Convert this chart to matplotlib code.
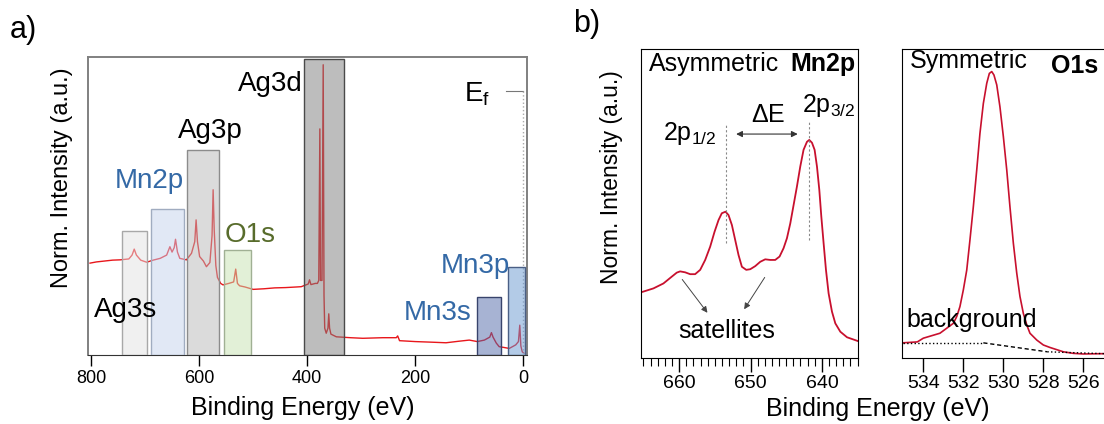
"""
plot.py — XPS survey (a) and Mn2p / O1s core levels (b)
"""
import matplotlib
matplotlib.use("Agg")
import matplotlib.pyplot as plt
from matplotlib.colors import to_rgba
from matplotlib.patches import Rectangle
from matplotlib.ticker import MultipleLocator

plt.rcParams["font.family"] = ["Liberation Sans", "DejaVu Sans"]
plt.rcParams["mathtext.fontset"] = "custom"
plt.rcParams["mathtext.rm"] = "Liberation Sans"
plt.rcParams["mathtext.it"] = "Liberation Sans:italic"

# --- survey spectrum (eV, normalised intensity) ---
survey_ev = [801.8, 790, 775, 760, 746, 730, 724, 720, 716, 708, 697, 685, 672, 660,
             654, 650, 646, 643.6, 640, 635.7, 623.4, 614, 608, 605.5, 603, 599, 592,
             586.4, 580, 576, 574, 572, 569, 566, 560, 555.7, 545, 536, 532.2, 529, 525,
             515, 500, 480, 460, 440, 420, 411, 398, 395.6, 393, 385, 381, 378.5, 376.5,
             375.3, 372.5, 370.3, 368.8, 367.5, 364.7, 361.5, 360, 358.5, 356, 346, 320,
             297, 260, 235, 232.5, 229, 200, 170, 143, 120, 100, 85, 72, 62, 59, 56, 50,
             44.7, 35, 26, 14, 9, 6.5, 4.5, 2, -1]
survey_int = [0.308, 0.312, 0.315, 0.318, 0.319, 0.322, 0.335, 0.355, 0.335, 0.318, 0.311,
              0.318, 0.324, 0.335, 0.363, 0.345, 0.36, 0.388, 0.345, 0.324, 0.319, 0.341,
              0.38, 0.453, 0.38, 0.33, 0.315, 0.296, 0.31, 0.40, 0.554, 0.42, 0.30, 0.26,
              0.24, 0.235, 0.24, 0.245, 0.288, 0.24, 0.232, 0.228, 0.220, 0.222, 0.225,
              0.226, 0.228, 0.229, 0.238, 0.252, 0.236, 0.24, 0.24, 0.25, 0.758, 0.25, 0.25,
              0.973, 0.2, 0.09, 0.073, 0.09, 0.138, 0.09, 0.07, 0.061, 0.058, 0.056, 0.058,
              0.058, 0.064, 0.048, 0.045, 0.043, 0.041, 0.046, 0.05, 0.045, 0.05, 0.06,
              0.075, 0.06, 0.04, 0.028, 0.025, 0.022, 0.034, 0.045, 0.1, 0.03, 0.011, 0.006]

# --- core-level regions marked on the survey ---
region_names = ["Ag3s", "Mn2p", "Ag3p", "O1s", "Ag3d", "Mn3s", "Mn3p"]
region_hi = [742.2, 688.6, 622.2, 553.8, 406.7, 84.8, 28.0]
region_lo = [696.6, 627.7, 563.0, 503.3, 332.2, 40.4, -2.7]
region_top = [0.417, 0.491, 0.687, 0.351, 0.993, 0.194, 0.296]
region_face = ["#e3e3e3", "#c5d3ed", "#b9b9b9", "#c7e3b1", "#7d7d7d", "#5169a9", "#6999d1"]
region_edge = ["#a8a8a8", "#a0acc0", "#8c8c8c", "#a0b094", "#4a4a4a", "#38436c", "#4a5f85"]
region_text = ["black", "#3469a6", "black", "#586c2c", "black", "#3469a6", "#3469a6"]
label_x = [736.3, 692.9, 579.0, 504.9, 468.2, 159.2, 89.4]
label_y = [0.129, 0.559, 0.727, 0.380, 0.884, 0.117, 0.274]

# --- Mn2p ---
mn_ev = [665.10, 663.60, 662.20, 661.03, 660.33, 659.86, 659.16, 658.46, 657.76, 657.05,
         656.35, 655.65, 655.04, 654.48, 654.02, 653.50, 653.08, 652.61, 652.15, 651.68,
         651.21, 650.60, 650.04, 649.34, 648.64, 647.94, 647.24, 646.54, 645.93, 645.37,
         644.90, 644.43, 643.96, 643.50, 643.03, 642.57, 642.09, 641.77, 641.39, 641.02,
         640.69, 640.36, 640.08, 639.76, 639.43, 639.06, 638.59, 638.12, 637.42, 636.48,
         634.99]
mn_int = [0.215, 0.226, 0.242, 0.264, 0.277, 0.281, 0.278, 0.272, 0.272, 0.286,
          0.318, 0.361, 0.409, 0.447, 0.469, 0.474, 0.463, 0.431, 0.383, 0.334,
          0.296, 0.286, 0.288, 0.298, 0.312, 0.320, 0.318, 0.318, 0.329, 0.356,
          0.388, 0.436, 0.496, 0.555, 0.620, 0.674, 0.700, 0.706, 0.697, 0.674,
          0.620, 0.544, 0.458, 0.372, 0.286, 0.210, 0.151, 0.113, 0.086, 0.068,
          0.056]
mn_peaks = [653.5, 641.8]

# --- O1s ---
o_ev = [535.03, 534.3, 534.0, 533.17, 532.50, 532.33, 532.17, 532.0, 531.83, 531.67, 531.5,
        531.33, 531.17, 531.0, 530.83, 530.70, 530.58, 530.47, 530.33, 530.17, 530.0,
        529.83, 529.67, 529.5, 529.33, 529.17, 529.0, 528.83, 528.67, 528.33, 528.0,
        527.67, 527.0, 526.5, 526.0, 525.0, 524.5]
o_int = [0.050, 0.053, 0.065, 0.081, 0.113, 0.135, 0.167, 0.221, 0.285, 0.382, 0.490,
         0.609, 0.727, 0.824, 0.889, 0.921, 0.927, 0.916, 0.884, 0.813, 0.717,
         0.609, 0.490, 0.372, 0.275, 0.200, 0.145, 0.108, 0.081, 0.059, 0.043,
         0.035, 0.021, 0.016, 0.014, 0.015, 0.014]
bg_dot1_ev, bg_dot1 = [535.0, 531.0], [0.050, 0.050]
bg_dash_ev, bg_dash = [531.0, 527.8], [0.050, 0.021]
bg_dot2_ev, bg_dot2 = [527.8, 524.5], [0.021, 0.014]

RED = "#c8102e"
W, H = 1104, 424
fig = plt.figure(figsize=(W / 100, H / 100), dpi=100)


def px_axes(x0, y0, x1, y1):
    return fig.add_axes([x0 / W, 1 - y1 / H, (x1 - x0) / W, (y1 - y0) / H])


# ---------------- panel a ----------------
ax = px_axes(88.3, 56.7, 527.3, 355)
ax.plot(survey_ev, survey_int, color="#e8161b", lw=1.0, zorder=2)
for name, hi, lo, top, fc, ec, tc, lx, ly in zip(region_names, region_hi, region_lo, region_top,
                                                 region_face, region_edge, region_text,
                                                 label_x, label_y):
    ax.add_patch(Rectangle((lo, 0.0), hi - lo, top, facecolor=to_rgba(fc, 0.5),
                           edgecolor=ec, lw=1.0, zorder=3))
    ax.text(lx, ly, name, color=tc, fontsize=20, ha="center", va="baseline", zorder=4)

ax.text(86.3, 0.85, r"E$_\mathrm{f}$", fontsize=20, ha="center", va="baseline")
ax.plot([32.3, 0.8], [0.884, 0.884], color="#777777", lw=0.8)
ax.plot([0.8, 0.8], [0.884, 0.0], color="#aaaaaa", lw=1.0, ls=":")

ax.set_xlim(805, -7.4)
ax.set_ylim(0, 1)
ax.set_xticks([800, 600, 400, 200, 0])
ax.set_yticks([])
ax.tick_params(axis="x", direction="out", length=8, width=1, labelsize=13, pad=3)
for s in ["top", "left", "right"]:
    ax.spines[s].set_color("#808080")
    ax.spines[s].set_linewidth(1.4)
ax.spines["bottom"].set_color("#333333")

fig.text(302.5 / W, 1 - 415 / H, "Binding Energy (eV)", fontsize=18, ha="center", va="baseline")
fig.text(62 / W, 1 - 177.5 / H, "Norm. Intensity (a.u.)", fontsize=17, rotation=90,
         ha="center", va="center")
fig.text(10 / W, 1 - 38 / H, "a)", fontsize=22, ha="left", va="baseline")

# ---------------- panel b, Mn2p ----------------
bx = px_axes(641.3, 49, 858.3, 358.3)
bx.plot(mn_ev, mn_int, color=RED, lw=1.3)
bx.plot([mn_peaks[0]] * 2, [0.372, 0.754], color="#888888", lw=0.8, ls=(0, (2, 2)))
bx.plot([mn_peaks[1]] * 2, [0.382, 0.765], color="#888888", lw=0.8, ls=(0, (2, 2)))
bx.annotate("", xy=(643.0, 0.725), xytext=(652.4, 0.725),
            arrowprops=dict(arrowstyle="<|-|>", color="#333333", lw=0.8, mutation_scale=9))
bx.text(647.6, 0.765, r"$\Delta$E", fontsize=18, ha="center", va="baseline")
bx.text(658.5, 0.706, r"2p$_{1/2}$", fontsize=18, ha="center", va="baseline")
bx.text(639.1, 0.797, r"2p$_{3/2}$", fontsize=18, ha="center", va="baseline")
bx.text(0.037, 0.93, "Asymmetric", fontsize=18, ha="left", va="baseline", transform=bx.transAxes)
bx.text(0.985, 0.93, "Mn2p", fontsize=18, fontweight="bold", ha="right", va="baseline",
        transform=bx.transAxes)
bx.text(653.3, 0.067, "satellites", fontsize=18, ha="center", va="baseline")
for start, end in [((659.8, 0.262), (655.8, 0.14)), ((647.8, 0.269), (651.1, 0.151))]:
    bx.annotate("", xy=end, xytext=start,
                arrowprops=dict(arrowstyle="-|>", color="#444444", lw=0.7, mutation_scale=9))
bx.set_xlim(665.3, 634.9)
bx.set_ylim(0, 1)
bx.xaxis.set_major_locator(MultipleLocator(10))
bx.xaxis.set_minor_locator(MultipleLocator(1))
bx.set_yticks([])
bx.tick_params(axis="x", which="major", direction="out", length=10, width=1, labelsize=14, pad=2)
bx.tick_params(axis="x", which="minor", direction="out", length=6, width=0.8)

# ---------------- panel b, O1s ----------------
cx = px_axes(901.7, 49, 1112, 358.3)
cx.plot(o_ev, o_int, color=RED, lw=1.2)
cx.plot(bg_dot1_ev, bg_dot1, color="black", lw=1.0, ls=":")
cx.plot(bg_dash_ev, bg_dash, color="black", lw=1.0, ls=(0, (3, 2)))
cx.plot(bg_dot2_ev, bg_dot2, color="black", lw=1.0, ls=":")
cx.text(534.67, 0.938, "Symmetric", fontsize=18, ha="left", va="baseline")
cx.text(527.63, 0.921, "O1s", fontsize=18, fontweight="bold", ha="left", va="baseline")
cx.text(534.83, 0.102, "background", fontsize=18, ha="left", va="baseline")
cx.set_xlim(535.08, 524.57)
cx.set_ylim(0, 1)
cx.set_xticks([534, 532, 530, 528, 526])
cx.set_yticks([])
cx.tick_params(axis="x", direction="out", length=10, width=1, labelsize=14, pad=2)

fig.text(877.8 / W, 1 - 416 / H, "Binding Energy (eV)", fontsize=18, ha="center", va="baseline")
fig.text(611.7 / W, 1 - 177.5 / H, "Norm. Intensity (a.u.)", fontsize=16.5, rotation=90,
         ha="center", va="center")
fig.text(573 / W, 1 - 31.7 / H, "b)", fontsize=22, ha="left", va="baseline")

fig.savefig("out.png", dpi=100)
